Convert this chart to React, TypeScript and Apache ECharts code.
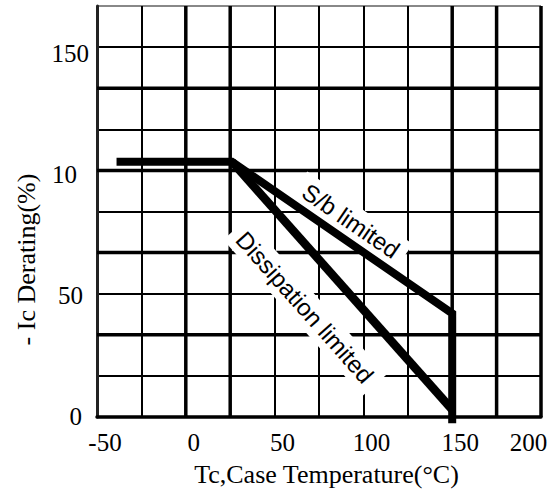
import React, { useEffect, useRef } from "react";
import * as echarts from "echarts";

// ---- data ----
const xTicks = [-50, 0, 50, 100, 150, 200];
const xTickLabels = ["-50", "0", "50", "100", "150", "200"];
const yTicks = [0, 50, 100, 150];
const yTickLabels = ["0", "50", "10", "150"];

// derating curves: [Tc (°C), Ic (%)]
const sbLimited = [
  [-39, 103.5],
  [26, 103.5],
  [150, 42],
  [150, -2.5],
];
const dissipationLimited = [
  [26, 103.5],
  [150, 3],
];

// heavier grid lines
const thickX = [0, 25, 150, 175, 200];
const thickY = [100 / 3, 200 / 3, 100, 400 / 3];

const X_MIN = -50;
const X_MAX = 200;
const X_STEP = 25;
const Y_MIN = 0;
const Y_STEP = 50 / 3;
const Y_MAX = 500 / 3;

const SERIF = "Liberation Serif";
const SANS = "Liberation Sans";

export default function App() {
  const ref = useRef<HTMLDivElement>(null);
  useEffect(() => {
    document.body.style.margin = "0";
    const chart = echarts.init(ref.current!, null, { renderer: "svg" });

    const gridSeries: any[] = [];
    thickX.forEach((x) =>
      gridSeries.push({
        type: "line",
        data: [
          [x, Y_MIN],
          [x, Y_MAX],
        ],
        symbol: "none",
        clip: false,
        silent: true,
        z: 1,
        lineStyle: { color: "#000", width: 3.5 },
      })
    );
    thickY.forEach((y) =>
      gridSeries.push({
        type: "line",
        data: [
          [X_MIN, y],
          [X_MAX, y],
        ],
        symbol: "none",
        clip: false,
        silent: true,
        z: 1,
        lineStyle: { color: "#000", width: 3.5 },
      })
    );

    const yLabelRich: any = {
      a: { padding: [12, 0, 0, 0] },
      b: { padding: [9, 12, 0, 0] },
      c: { padding: [3, 6, 0, 0] },
      d: { padding: [0, 7, 2, 0] },
    };
    Object.keys(yLabelRich).forEach((k) => {
      yLabelRich[k].fontFamily = SERIF;
      yLabelRich[k].fontSize = 25;
      yLabelRich[k].color = "#000";
    });

    chart.setOption({
      animation: false,
      backgroundColor: "#fff",
      grid: {
        left: 97,
        right: 18,
        top: 6,
        bottom: 81,
        containLabel: false,
        outerBoundsMode: "none",
      },
      xAxis: {
        type: "value",
        min: X_MIN,
        max: X_MAX,
        interval: X_STEP,
        axisLine: { show: true, onZero: false, lineStyle: { color: "#000", width: 3.5 } },
        axisTick: { show: false },
        splitLine: { show: true, lineStyle: { color: "#000", width: 2 } },
        axisLabel: {
          show: true,
          margin: 13,
          fontFamily: SERIF,
          fontSize: 25,
          color: "#000",
          formatter: (v: number) => {
            const i = xTicks.indexOf(Math.round(v));
            if (i < 0) return "";
            return i === xTicks.length - 1
              ? `{r|${xTickLabels[i]}}`
              : `{n|${xTickLabels[i]}}`;
          },
          rich: {
            n: { padding: [0, 0, 0, 16], fontFamily: SERIF, fontSize: 25, color: "#000" },
            r: { padding: [0, 25, 6, 0], fontFamily: SERIF, fontSize: 25, color: "#000" },
          },
        },
        name: "Tc,Case Temperature(°C)",
        nameLocation: "middle",
        nameGap: 44,
        nameTextStyle: {
          fontFamily: SERIF,
          fontSize: 26,
          color: "#000",
          padding: [0, 0, 0, 15],
        },
      },
      yAxis: {
        type: "value",
        min: Y_MIN,
        max: Y_MAX,
        interval: Y_STEP,
        axisLine: { show: true, onZero: false, lineStyle: { color: "#222", width: 3 } },
        axisTick: { show: false },
        splitLine: {
          show: true,
          lineStyle: {
            color: ["#000", "#000", "#000", "#000", "#000", "#000", "#000", "#000", "#000", "#000", "#888"],
            width: 2,
          },
        },
        axisLabel: {
          show: true,
          margin: 8,
          fontFamily: SERIF,
          fontSize: 25,
          color: "#000",
          formatter: (v: number) => {
            const i = yTicks.indexOf(Math.round(v));
            if (i < 0) return "";
            return `{${"dcba"[i]}|${yTickLabels[i]}}`;
          },
          rich: yLabelRich,
        },
        name: "- Ic Derating(%)",
        nameLocation: "middle",
        nameGap: 58,
        nameTextStyle: {
          fontFamily: SERIF,
          fontSize: 26,
          color: "#000",
          padding: [0, 96, 0, 0],
        },
      },
      series: [
        ...gridSeries,
        {
          name: "S/b limited",
          type: "line",
          data: sbLimited,
          symbol: "none",
          clip: false,
          z: 10,
          lineStyle: { color: "#000", width: 8, cap: "butt", join: "miter" },
        },
        {
          name: "Dissipation limited",
          type: "line",
          data: dissipationLimited,
          symbol: "none",
          clip: false,
          z: 10,
          lineStyle: { color: "#000", width: 8.5, cap: "butt", join: "miter" },
        },
      ],
    });

    const p1 = chart.convertToPixel({ gridIndex: 0 }, [93, 79.5]) as number[];
    const p2 = chart.convertToPixel({ gridIndex: 0 }, [67, 44.5]) as number[];
    chart.setOption({
      graphic: [
        {
          type: "text",
          x: p1[0],
          y: p1[1],
          rotation: (-34.5 * Math.PI) / 180,
          z: 5,
          style: {
            text: "S/b limited",
            fontFamily: SANS,
            fontSize: 24,
            fill: "#000",
            align: "center",
            verticalAlign: "middle",
            backgroundColor: "#fff",
            padding: [4, 8, 4, 8],
          },
        },
        {
          type: "text",
          x: p2[0],
          y: p2[1],
          rotation: (-48.3 * Math.PI) / 180,
          z: 5,
          style: {
            text: "Dissipation limited",
            fontFamily: SANS,
            fontSize: 24,
            fill: "#000",
            align: "center",
            verticalAlign: "middle",
            backgroundColor: "#fff",
            padding: [4, 8, 4, 8],
          },
        },
      ],
    });

    return () => chart.dispose();
  }, []);
  return (
    <div
      ref={ref}
      style={{ position: "fixed", left: 0, top: 0, width: 559, height: 498 }}
    />
  );
}
